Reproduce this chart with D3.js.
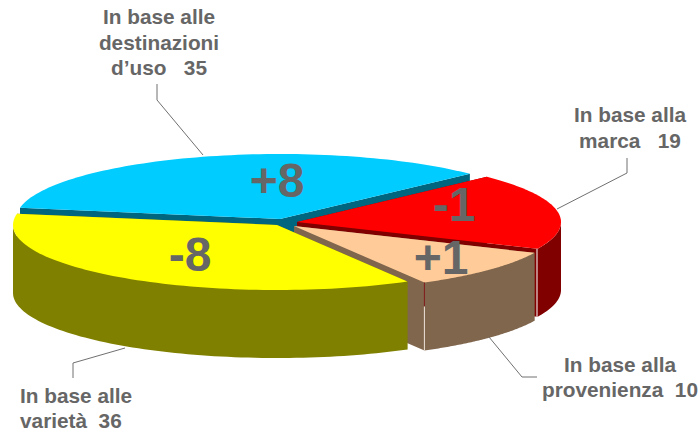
<!DOCTYPE html>
<html><head><meta charset="utf-8">
<style>html,body{margin:0;background:#fff}svg{display:block}text{font-family:"Liberation Sans",Arial,sans-serif;font-weight:bold}</style>
<script src="https://cdnjs.cloudflare.com/ajax/libs/d3/7.8.5/d3.min.js"></script>
</head><body><svg id="c" width="700" height="432"></svg>
<script>
const categories=["In base alle destinazioni d’uso","In base alla marca","In base alla provenienza","In base alle varietà"];
const values=[35,19,10,36];
const deltas=["+8","-1","+1","-8"];
const topColors=["#00ccff","#ff0000","#ffcc99","#ffff00"];
const wallColors=["#006680","#800000","#80664d","#808000"];
const apexes=[[280,219],[297,222],[294,226],[277,225]];
const rx=264,ry=65,depth=68;
const svg=d3.select("#c");
const arcs=d3.pie().sort(null).value(d=>d).startAngle(-80*Math.PI/180).endAngle(280*Math.PI/180)(values);
const px=(c,a)=>[c[0]+rx*Math.sin(a),c[1]-ry*Math.cos(a)];
const line=d3.line();
const span=(a0,a1,n)=>d3.range(n+1).map(k=>a0+(a1-a0)*k/n);
arcs.forEach((s,i)=>{
  const c=apexes[i];
  const g=svg.append("g");
  // inner walls
  [s.startAngle,s.endAngle].forEach(a=>{
    const p=px(c,a);
    g.append("path").attr("d",line([c,p,[p[0],p[1]+depth],[c[0],c[1]+depth]])+"Z").attr("fill",wallColors[i]);
  });
  // outer wall: only the front half of the rim (angles 90°..270°) is visible
  const a0=Math.max(s.startAngle,Math.PI/2),a1=Math.min(s.endAngle,3*Math.PI/2);
  if(a1>a0){
    const rim=span(a0,a1,80).map(a=>px(c,a));
    const lower=rim.map(p=>[p[0],p[1]+depth]).reverse();
    g.append("path").attr("d",line(rim.concat(lower))+"Z").attr("fill",wallColors[i]);
  }
  // top face
  const top=[c].concat(span(s.startAngle,s.endAngle,80).map(a=>px(c,a)));
  g.append("path").attr("d",line(top)+"Z").attr("fill",topColors[i]);
});
// edge highlights on walls
const e1=px(apexes[1],arcs[1].endAngle), e2=px(apexes[2],arcs[2].endAngle);
svg.append("line").attr("x1",e1[0]-.5).attr("x2",e1[0]-.5).attr("y1",e1[1]).attr("y2",e1[1]+depth).attr("stroke","#f0e0e0").attr("stroke-width",1);
svg.append("line").attr("x1",e2[0]).attr("x2",e2[0]).attr("y1",e2[1]).attr("y2",e2[1]+24).attr("stroke","#801a1a").attr("stroke-width",1);
svg.append("line").attr("x1",e2[0]).attr("x2",e2[0]).attr("y1",e2[1]+24).attr("y2",e2[1]+depth).attr("stroke","#eadfd5").attr("stroke-width",1);
// leader lines
const leaders=[[[157,84],[157,100],[203,155]],[[627,158],[627,173],[557,209]],[[489,337],[522,377],[537,377]],[[125,348],[73,363],[73,378]]];
leaders.forEach(l=>svg.append("path").attr("d",line(l)).attr("fill","none").attr("stroke","#707070").attr("stroke-width",1));
// big deltas
const deltaPos=[[277,197],[454,221],[441,274],[190,271]];
deltas.forEach((d,i)=>svg.append("text").attr("x",deltaPos[i][0]).attr("y",deltaPos[i][1]).attr("text-anchor","middle").attr("font-size",48).attr("fill","#666666").text(d));
// labels
const labels=[
 {x:159,a:"middle",lines:[["In base alle",24],["destinazioni",50],["d’uso   "+values[0],75]]},
 {x:630,a:"middle",lines:[["In base alla",122],["marca   "+values[1],148]]},
 {x:620,a:"middle",lines:[["In base alla",372],["provenienza  "+values[2],397]]},
 {x:20,a:"start",lines:[["In base alle",403],["varietà  "+values[3],428]]}];
labels.forEach(l=>l.lines.forEach(t=>svg.append("text").attr("x",l.x).attr("y",t[1]).attr("text-anchor",l.a).attr("font-size",20.8).attr("fill","#666666").attr("xml:space","preserve").style("white-space","pre").text(t[0])));
</script></body></html>
